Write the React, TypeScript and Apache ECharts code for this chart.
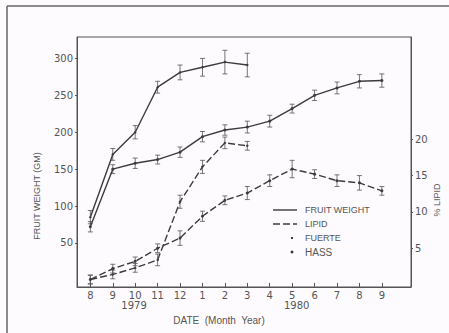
import React, { useEffect, useRef } from "react";
import * as echarts from "echarts";

const monthLabels = ["8", "9", "10", "11", "12", "1", "2", "3", "4", "5", "6", "7", "8", "9"];
const yearLabels = ["1979", "1980"];
const yearPositions = [1.95, 9.2];
const weightTicks = [50, 100, 150, 200, 250, 300];
const lipidTicks = [5, 10, 15, 20];

const fuerteWeight = [85, 170, 200, 261, 281, 288, 295, 291];
const fuerteWeightErr = [9, 8, 9, 8, 10, 12, 16, 16];
const hassWeight = [72, 150, 158, 163, 173, 194, 203, 207, 215, 232, 250, 260, 269, 270];
const hassWeightErr = [7, 6, 7, 6, 7, 7, 7, 8, 8, 6, 7, 8, 9, 9];
const fuerteLipid = [0.7, 1.4, 2.3, 3.4, 11.4, 16.2, 19.5, 19.1];
const fuerteLipidErr = [0.6, 0.6, 0.6, 0.8, 0.9, 0.9, 0.8, 0.6];
const hassLipid = [0.7, 2.2, 3.2, 5.0, 6.4, 9.4, 11.6, 12.6, 14.3, 15.9, 15.2, 14.3, 14.0, 12.9];
const hassLipidErr = [0.6, 0.6, 0.6, 0.6, 1.0, 0.7, 0.6, 0.9, 0.8, 1.2, 0.6, 0.8, 1.0, 0.6];

const INK = "#3c3c3c";
const TXT = "#555";

const pairs = (arr: number[]) => arr.map((v, i) => [i, v]);
const errs = (arr: number[], e: number[]) => arr.map((v, i) => [i, v - e[i], v + e[i]]);

const errorRender = (params: any, api: any) => {
  const x = api.value(0);
  const lo = api.coord([x, api.value(1)]);
  const hi = api.coord([x, api.value(2)]);
  const w = 2.5;
  const st = { stroke: "#555", lineWidth: 0.8 };
  return {
    type: "group",
    children: [
      { type: "line", shape: { x1: lo[0], y1: lo[1], x2: hi[0], y2: hi[1] }, style: st },
      { type: "line", shape: { x1: lo[0] - w, y1: lo[1], x2: lo[0] + w, y2: lo[1] }, style: st },
      { type: "line", shape: { x1: hi[0] - w, y1: hi[1], x2: hi[0] + w, y2: hi[1] }, style: st },
    ],
  };
};

export default function App() {
  const ref = useRef<HTMLDivElement>(null);
  useEffect(() => {
    document.body.style.margin = "0";
    const chart = echarts.init(ref.current!, null, { renderer: "svg" });
    const numFont = { fontFamily: "DejaVu Sans", fontSize: 10, color: TXT };
    chart.setOption({
      animation: false,
      backgroundColor: "#fdfbfd",
      grid: { left: 77, right: 38, top: 37, bottom: 46, show: true, borderColor: "#555", borderWidth: 1 },
      xAxis: {
        type: "value",
        min: -0.595,
        max: 14.3,
        splitLine: { show: false },
        axisLine: { show: true, onZero: false, lineStyle: { color: "#555" } },
        axisTick: { show: true, inside: true, length: 4, customValues: monthLabels.map((_, i) => i), lineStyle: { color: "#555" } },
        axisLabel: { ...numFont, margin: 3, customValues: monthLabels.map((_, i) => i), formatter: (v: number) => monthLabels[Math.round(v)] },
      },
      yAxis: [
        {
          type: "value",
          min: -9.6,
          max: 329,
          splitLine: { show: false },
          axisLine: { show: true, onZero: false, lineStyle: { color: "#555" } },
          axisTick: { show: true, length: 2, customValues: weightTicks, lineStyle: { color: "#555" } },
          axisLabel: { ...numFont, margin: 4, customValues: weightTicks },
        },
        {
          type: "value",
          position: "right",
          min: -0.33,
          max: 34.07,
          splitLine: { show: false },
          axisLine: { show: true, onZero: false, lineStyle: { color: "#555" } },
          axisTick: { show: true, length: 2, customValues: lipidTicks, lineStyle: { color: "#555" } },
          axisLabel: { ...numFont, margin: 4, customValues: lipidTicks },
        },
      ],
      series: [
        {
          type: "line", name: "Fuerte weight", data: pairs(fuerteWeight), yAxisIndex: 0,
          lineStyle: { color: INK, width: 1.4 }, symbol: "diamond", symbolSize: 3, itemStyle: { color: INK },
        },
        {
          type: "line", name: "Hass weight", data: pairs(hassWeight), yAxisIndex: 0,
          lineStyle: { color: INK, width: 1.4 }, symbol: "circle", symbolSize: 3, itemStyle: { color: INK },
        },
        {
          type: "line", name: "Fuerte lipid", data: pairs(fuerteLipid), yAxisIndex: 1,
          lineStyle: { color: INK, width: 1.4, type: [7, 3] }, symbol: "diamond", symbolSize: 3, itemStyle: { color: INK },
        },
        {
          type: "line", name: "Hass lipid", data: pairs(hassLipid), yAxisIndex: 1,
          lineStyle: { color: INK, width: 1.4, type: [7, 3] }, symbol: "circle", symbolSize: 3, itemStyle: { color: INK },
        },
        { type: "custom", yAxisIndex: 0, data: errs(fuerteWeight, fuerteWeightErr), renderItem: errorRender, encode: { x: 0, y: [1, 2] }, z: 3 },
        { type: "custom", yAxisIndex: 0, data: errs(hassWeight, hassWeightErr), renderItem: errorRender, encode: { x: 0, y: [1, 2] }, z: 3 },
        { type: "custom", yAxisIndex: 1, data: errs(fuerteLipid, fuerteLipidErr), renderItem: errorRender, encode: { x: 0, y: [1, 2] }, z: 3 },
        { type: "custom", yAxisIndex: 1, data: errs(hassLipid, hassLipidErr), renderItem: errorRender, encode: { x: 0, y: [1, 2] }, z: 3 },
      ],
    });

    const yearY = 305;
    const yearTexts = yearLabels.map((t, i) => {
      const px = chart.convertToPixel({ xAxisIndex: 0 }, yearPositions[i]) as number;
      return {
        type: "text", x: px, y: yearY,
        style: { text: t, fontFamily: "DejaVu Sans", fontSize: 10, fill: TXT, align: "center", verticalAlign: "middle" },
      };
    });
    const labelFont = { fontFamily: "Liberation Sans", fontSize: 9, fill: TXT };
    const legendX1 = 273, legendX2 = 297, legendTX = 305;
    chart.setOption({
      graphic: [
        { type: "line", shape: { x1: 7, y1: 6, x2: 7, y2: 333 }, style: { stroke: "#666", lineWidth: 1.5 } },
        { type: "line", shape: { x1: 7, y1: 6, x2: 449, y2: 6 }, style: { stroke: "#666", lineWidth: 1.5 } },
        ...yearTexts,
        {
          type: "text", x: 219, y: 320,
          style: { text: "DATE  (Month  Year)", ...labelFont, fontSize: 10, align: "center", verticalAlign: "middle" },
        },
        {
          type: "text", x: 37, y: 196, rotation: Math.PI / 2,
          style: { text: "FRUIT WEIGHT (GM)", ...labelFont, align: "center", verticalAlign: "middle" },
        },
        {
          type: "text", x: 437, y: 200, rotation: Math.PI / 2,
          style: { text: "% LIPID", ...labelFont, align: "center", verticalAlign: "middle" },
        },
        { type: "line", shape: { x1: legendX1, y1: 210, x2: legendX2, y2: 210 }, style: { stroke: INK, lineWidth: 1.4 } },
        { type: "line", shape: { x1: legendX1, y1: 224, x2: legendX2, y2: 224 }, style: { stroke: INK, lineWidth: 1.4, lineDash: [7, 3] } },
        { type: "rect", shape: { x: 291, y: 237, width: 2, height: 2 }, style: { fill: INK } },
        { type: "circle", shape: { cx: 292, cy: 252, r: 1.5 }, style: { fill: INK } },
        { type: "text", x: legendTX, y: 210, style: { text: "FRUIT WEIGHT", ...labelFont, verticalAlign: "middle" } },
        { type: "text", x: legendTX, y: 224, style: { text: "LIPID", ...labelFont, verticalAlign: "middle" } },
        { type: "text", x: legendTX, y: 238, style: { text: "FUERTE", ...labelFont, verticalAlign: "middle" } },
        { type: "text", x: legendTX, y: 252, style: { text: "HASS", ...labelFont, fontSize: 10, verticalAlign: "middle" } },
      ],
    });
    return () => chart.dispose();
  }, []);
  return <div ref={ref} style={{ width: 449, height: 333 }} />;
}
